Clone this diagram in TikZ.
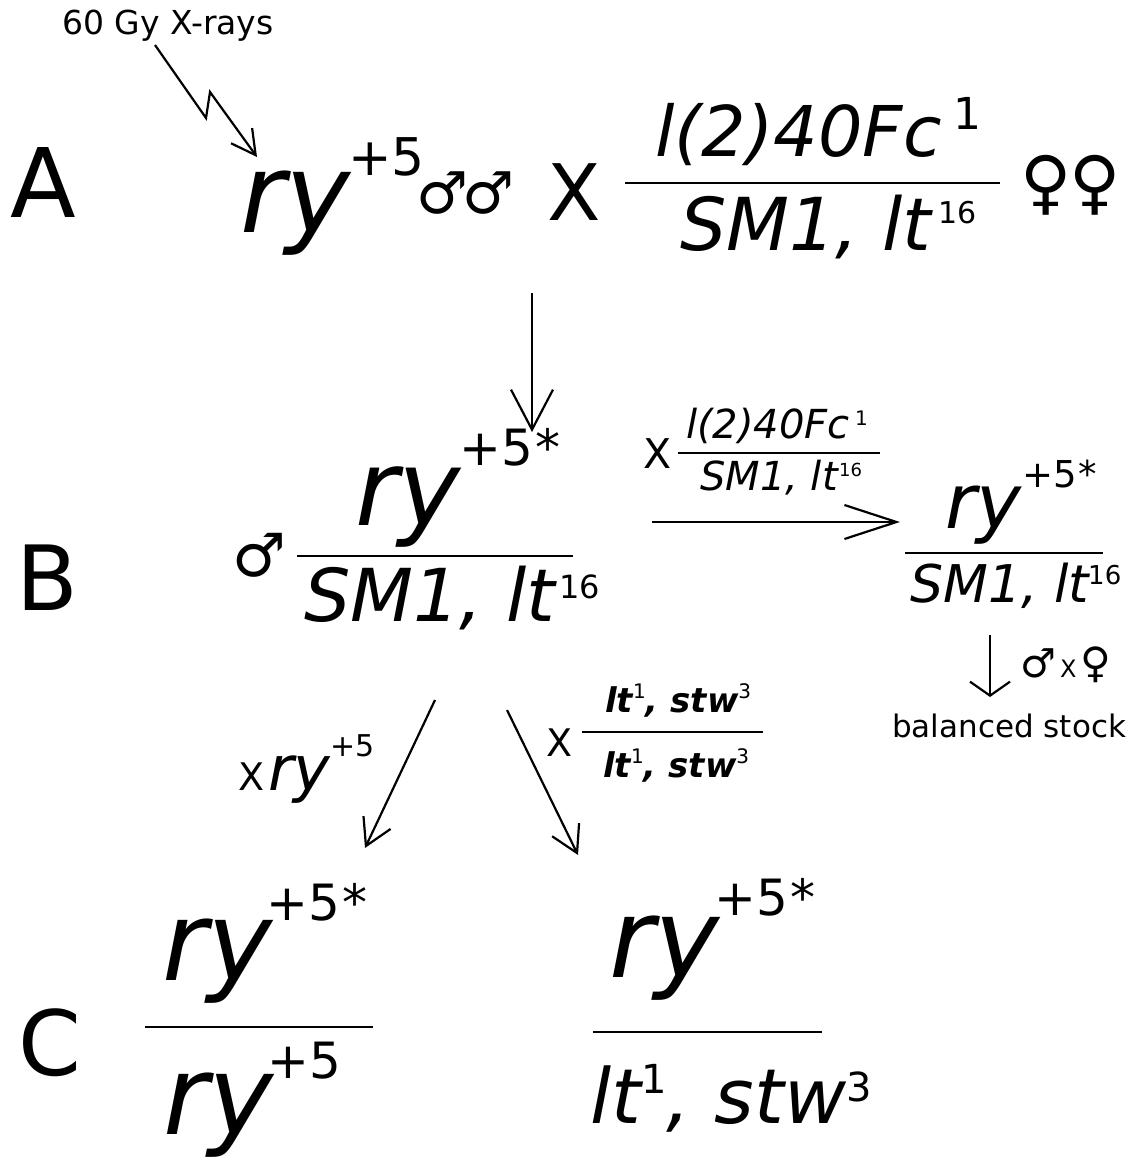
\documentclass[tikz,border=0pt]{standalone}
\usepackage{fontspec}
\setmainfont{DejaVu Sans}
\usetikzlibrary{arrows.meta}
\newcommand\fsz[1]{\fontsize{#1}{#1}\selectfont}
\newcommand\gsup[3]{\raisebox{#1}{\fsz{#2}\upshape\mdseries #3}}
\begin{document}
\begin{tikzpicture}[x=1pt,y=-1pt,
  t/.style={inner sep=0pt, anchor=base west},
  it/.style={t, font=\fsz{#1}\itshape},
  up/.style={t, font=\fsz{#1}},
  fracline/.style={line width=2.8pt},
  arr/.style={line width=2.2pt},
  barb/.style 2 args={-{Straight Barb[length=#1,width=#2,line width=2.2pt]}}]
\useasboundingbox[fill=white] (0,0) rectangle (1135,1161);

% ---------- Row A ----------
\node[up=96] (A) at (10,218) {A};
\node[up=33] (xray) at (62,35) {60 Gy X-rays};
\node[it=110] (ryA) at (240,233) {ry};
\node[up=52] (supA) at (348,176) {+5};
\node[up=58] (mmA) at (416,214) {♂\hspace{-6pt}♂};
\node[up=78] (xA) at (547,220) {X};
\node[it=70] (numA) at (655,157) {l(2)40Fc};
\node[up=44] (numA1) at (953,130) {1};
\draw[fracline] (625,183) -- (1000,183);
\node[it=73] (denA) at (680,250) {SM1, lt};
\node[up=30] (denA16) at (938,223) {16};
\node[up=70] (ffA) at (1020,206) {♀\hspace{-2pt}♀};
\coordinate (bolt1) at (155,45);
\coordinate (bolt2) at (206,118);
\coordinate (bolt3) at (210,92);
\coordinate (bolt4) at (257,157);
\draw[arr,barb={24pt}{26pt},line join=miter] (bolt1) -- (bolt2) -- (bolt3) -- (bolt4);

% ---------- A -> B ----------
\coordinate (ab1) at (532,293);
\coordinate (ab2) at (532,432);
\draw[arr,barb={40pt}{42pt}] (ab1) -- (ab2);

% ---------- Row B ----------
\node[up=90] (B) at (16,610) {B};
\node[up=60] (mB) at (232,576) {♂};
\node[it=105] (ryB) at (355,525) {ry};
\node[up=50] (supB) at (459,465) {+5\hspace{3pt}*};
\draw[fracline] (297,556) -- (573,556);
\node[it=73] (denB) at (304,621) {SM1, lt};
\node[up=32] (denB16) at (559,598) {16};

\node[up=41] (xB) at (643,468) {X};
\node[it=40] (numL) at (686,438) {l(2)40Fc};
\node[up=20] (numL1) at (855,425) {1};
\draw[line width=2pt] (678,453) -- (880,453);
\node[it=40] (denL) at (700,490) {SM1, lt};
\node[up=18] (denL16) at (839,476) {16};
\coordinate (h1) at (652,522);
\coordinate (h2) at (900,522);
\draw[arr,barb={52pt}{34pt}] (h1) -- (h2);

\node[it=76] (ryR) at (945,528) {ry};
\node[up=37] (supR) at (1022,487) {+5\hspace{2pt}*};
\draw[fracline] (905,553) -- (1103,553);
\node[it=52] (denR) at (910,602) {SM1, lt};
\node[up=26] (denR16) at (1088,584) {16};
\coordinate (d1) at (990,635);
\coordinate (d2) at (990,697);
\draw[arr,barb={14pt}{40pt}] (d1) -- (d2);
\node[t] (mxf) at (1020,677) {{\fsz{40}♂}\hspace{4pt}{\fsz{24}X}\hspace{4pt}{\fsz{42}♀}};
\node[up=31] (bal) at (892,737) {balanced stock};

% ---------- B -> C ----------
\coordinate (l1) at (435,700);
\coordinate (l2) at (365,848);
\coordinate (r1) at (507,710);
\coordinate (r2) at (578,855);
\draw[arr,barb={26pt}{30pt}] (l1) -- (l2);
\draw[arr,barb={26pt}{30pt}] (r1) -- (r2);
\node[up=38] (xl) at (238,790) {X};
\node[t] (ryl) at (268,790) {{\fsz{62}\itshape ry}\gsup{34pt}{30}{+5}};
\node[up=38] (xr) at (546,756) {X};
\node[t] (numX) at (605,712) {{\fsz{34}\bfseries\itshape lt}\gsup{14pt}{20}{1}{\fsz{34}\bfseries\itshape , stw}\gsup{14pt}{20}{3}};
\draw[fracline] (582,732) -- (763,732);
\node[t] (denX) at (603,777) {{\fsz{34}\bfseries\itshape lt}\gsup{14pt}{20}{1}{\fsz{34}\bfseries\itshape , stw}\gsup{14pt}{20}{3}};

% ---------- Row C ----------
\node[up=90] (C) at (18,1075) {C};
\node[it=110] (ryC1) at (162,980) {ry};
\node[up=50] (supC1) at (266,920) {+5\hspace{3pt}*};
\draw[fracline] (145,1027) -- (373,1027);
\node[it=110] (ryC1d) at (163,1134) {ry};
\node[up=50] (supC1d) at (267,1078) {+5};
\node[it=110] (ryC2) at (609,977) {ry};
\node[up=50] (supC2) at (714,915) {+5\hspace{3pt}*};
\draw[fracline] (593,1032) -- (822,1032);
\node[t] (denC2) at (590,1123) {{\fsz{76}\itshape lt}\gsup{30pt}{40}{1}{\fsz{76}\itshape , stw}\gsup{22pt}{40}{3}};
\end{tikzpicture}
\end{document}
